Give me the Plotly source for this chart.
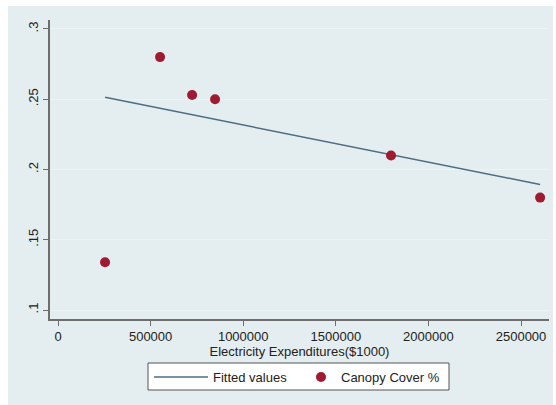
import plotly.graph_objects as go

# Observed data: electricity expenditures ($1000) vs canopy cover share
expenditures = [254000, 551000, 724000, 848000, 1798000, 2603000]
canopy_cover = [0.134, 0.280, 0.253, 0.250, 0.210, 0.180]

# Fitted values of the linear fit, at the ends of the observed range
fitted_x = [254000, 2603000]
fitted_y = [0.2514, 0.1893]

x_tick_vals = [0, 500000, 1000000, 1500000, 2000000, 2500000]
x_tick_text = ["0", "500000", "1000000", "1500000", "2000000", "2500000"]
y_tick_vals = [0.1, 0.15, 0.2, 0.25, 0.3]
y_tick_text = [".1", ".15", ".2", ".25", ".3"]

W, H = 556, 405
L, R, T, B = 50, 7, 20, 86
pw, ph = W - L - R, H - T - B

def px_x(p):
    return (p - L) / pw

def px_y(p):
    return (H - B - p) / ph

font = "Liberation Sans, Arial, Helvetica, sans-serif"
region_color = "#e4edf0"
axis_color = "#6e6e6e"
text_color = "#222222"

fig = go.Figure()
fig.add_trace(go.Scatter(
    x=fitted_x, y=fitted_y, mode="lines", name="Fitted values",
    line=dict(color="#4d6d80", width=1.5), legend="legend",
))
fig.add_trace(go.Scatter(
    x=expenditures, y=canopy_cover, mode="markers", name="Canopy Cover %",
    marker=dict(color="#9e1b32", size=10, line=dict(width=0)),
    legend="legend2",
))

legend_common = dict(
    orientation="h", xanchor="left", yanchor="middle", y=px_y(377),
    bgcolor="rgba(0,0,0,0)", borderwidth=0,
    font=dict(size=13, color=text_color),
)

fig.update_layout(
    width=W, height=H,
    margin=dict(l=L, r=R, t=T, b=B),
    paper_bgcolor="white",
    plot_bgcolor="white",
    font=dict(family=font, size=13, color=text_color),
    showlegend=True,
    legend=dict(x=px_x(149), itemwidth=54, **legend_common),
    legend2=dict(x=px_x(301), itemwidth=30, **legend_common),
    shapes=[
        # graph region background
        dict(type="rect", xref="paper", yref="paper", layer="below",
             x0=px_x(8), x1=px_x(553), y0=px_y(405), y1=px_y(6),
             fillcolor=region_color, line=dict(width=0)),
        # legend frame
        dict(type="rect", xref="paper", yref="paper", layer="below",
             x0=px_x(148), x1=px_x(449), y0=px_y(390), y1=px_y(363),
             fillcolor="white", line=dict(color="#555555", width=1)),
    ],
)

fig.update_xaxes(
    range=[-43200, 2651000],
    tickvals=x_tick_vals, ticktext=x_tick_text,
    ticks="outside", ticklen=5, tickcolor=axis_color, tickwidth=1,
    showline=True, linecolor=axis_color, linewidth=1.5,
    showgrid=False, zeroline=False,
    tickfont=dict(size=13, color=text_color),
    title=dict(text="Electricity Expenditures($1000)", standoff=3,
               font=dict(size=13, color=text_color)),
)
fig.update_yaxes(
    range=[0.0936, 0.3064],
    tickvals=y_tick_vals, ticktext=y_tick_text, tickangle=-90,
    ticks="outside", ticklen=5, tickcolor=axis_color, tickwidth=1,
    showline=True, linecolor=axis_color, linewidth=1.5,
    showgrid=True, gridcolor="#eef3f5", gridwidth=1, zeroline=False,
    tickfont=dict(size=13, color=text_color),
)

fig.write_html("out.html")
